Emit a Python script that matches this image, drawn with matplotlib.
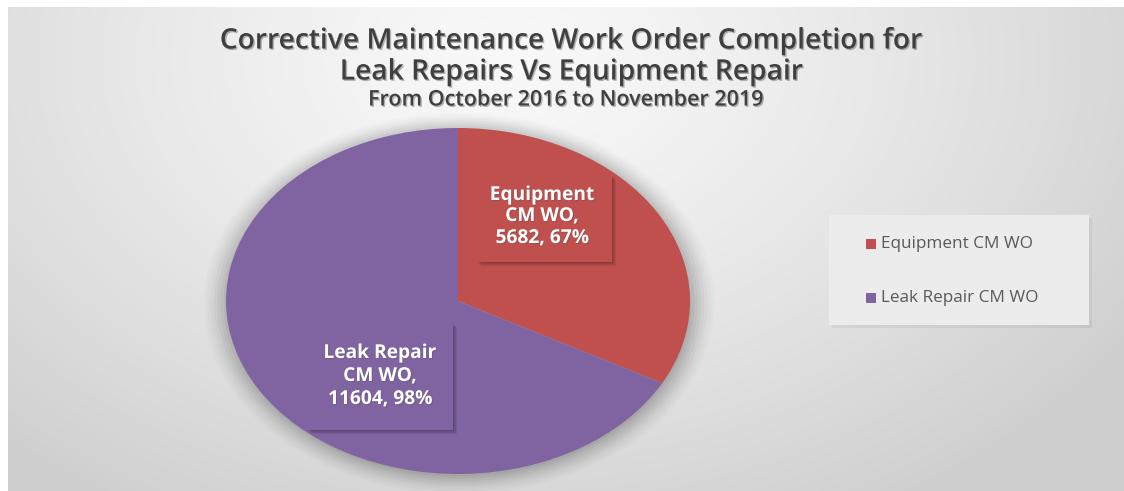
import numpy as np
import matplotlib
matplotlib.use("Agg")
import matplotlib.pyplot as plt
from matplotlib.patches import Rectangle
import matplotlib.patheffects as pe

# ---- data ----
categories = ["Equipment CM WO", "Leak Repair CM WO"]
values = [5682, 11604]
pct_labels = ["67%", "98%"]
colors = ["#c0504d", "#8064a2"]
title_lines = ["Corrective Maintenance Work Order Completion for",
               "Leak Repairs Vs Equipment Repair"]
subtitle = "From October 2016 to November 2019"

W, H = 1124, 491
fig = plt.figure(figsize=(W / 100, H / 100), dpi=100)
fig.patch.set_facecolor("#cfcfcf")

def fx(px):
    return px / W

def fy(py):
    return 1 - py / H

# ---- background with radial gradient ----
bg = fig.add_axes([0, 0, 1, 1])
bg.set_axis_off()
yy, xx = np.mgrid[0:1:300j, 0:1:600j]
d = np.sqrt(((xx - 0.45) * 1.6) ** 2 + ((yy - 0.12) * 1.0) ** 2)
d = np.clip(d / 1.05, 0, 1)
val = 0.975 - 0.16 * d ** 1.3
img = np.dstack([val, val, val])
bg.imshow(img, extent=[0, 1, 0, 1], origin="upper", aspect="auto",
          interpolation="bilinear")
bg.set_xlim(0, 1)
bg.set_ylim(0, 1)
# white outer margins at top and left
bg.add_patch(Rectangle((0, fy(7)), 1, 1, transform=fig.transFigure,
                       facecolor="white", lw=0, zorder=3))
bg.add_patch(Rectangle((0, 0), fx(8), 1, transform=fig.transFigure,
                       facecolor="white", lw=0, zorder=3))

# ---- pie ----
cx, cy, rx, ry = 458, 301, 232, 173
sh = fig.add_axes([fx(cx - rx - 30), fy(cy + ry + 30), fx(2 * rx + 60), (2 * ry + 60) / H])
sh.set_axis_off()
sh.set_xlim(-1, 1)
sh.set_ylim(-1, 1)
t = np.linspace(0, 2 * np.pi, 300)
sx = rx / (rx + 30)
sy = ry / (ry + 30)
for k, a in zip(np.linspace(1.10, 1.0, 8), np.linspace(0.015, 0.05, 8)):
    sh.fill(sx * k * np.cos(t) + 0.004, sy * k * np.sin(t) - 0.012, color="black", alpha=a, lw=0)

ax = fig.add_axes([fx(cx - rx), fy(cy + ry), fx(2 * rx), 2 * ry / H])
wedges, _ = ax.pie(values, colors=colors, startangle=90, counterclock=False,
                   wedgeprops=dict(linewidth=0))
ax.set_aspect("auto")
ax.set_xlim(-1, 1)
ax.set_ylim(-1, 1)
ax.set_axis_off()

# ---- data label boxes ----
def label_box(x0, y0, x1, y1, color, lines, tx, tys):
    for k in range(4):
        off = 1 + k
        shadow = Rectangle((fx(x0 + off), fy(y1 + off)), fx(x1 - x0), (y1 - y0) / H,
                           transform=fig.transFigure, facecolor="black", alpha=0.07,
                           lw=0, zorder=5)
        fig.patches.append(shadow)
    box = Rectangle((fx(x0), fy(y1)), fx(x1 - x0), (y1 - y0) / H,
                    transform=fig.transFigure, facecolor=color, lw=0, zorder=6)
    fig.patches.append(box)
    for s, ty in zip(lines, tys):
        fig.text(fx(tx), fy(ty), s, ha="center", va="center", color="white",
                 fontsize=13.8, fontweight="bold", family="Open Sans", zorder=7,
                 path_effects=[pe.withSimplePatchShadow(offset=(0.8, -0.8), alpha=0.3)])

label_box(477, 175, 612, 262, colors[0],
          ["Equipment", "CM WO,", f"{values[0]}, {pct_labels[0]}"],
          542, [195, 216, 238])
label_box(307, 323, 453, 430, colors[1],
          ["Leak Repair", "CM WO,", f"{values[1]}, {pct_labels[1]}"],
          380, [353, 376, 399])

# ---- title ----
tkw = dict(ha="center", va="center", fontweight="semibold", family="Open Sans",
           color="#3f3f3f",
           path_effects=[pe.withSimplePatchShadow(offset=(1, -1), alpha=0.3)])
fig.text(fx(572), fy(41), title_lines[0], fontsize=20.3, **tkw)
fig.text(fx(572), fy(72), title_lines[1], fontsize=20.3, **tkw)
fig.text(fx(566), fy(100), subtitle, fontsize=15.5, **tkw)

# ---- legend ----
lshadow = Rectangle((fx(832), fy(328)), fx(260), 110 / H, transform=fig.transFigure,
                    facecolor="black", alpha=0.05, lw=0, zorder=3)
lbox = Rectangle((fx(829), fy(325)), fx(260), 110 / H, transform=fig.transFigure,
                 facecolor="#ececec", lw=0, zorder=4)
fig.patches.extend([lshadow, lbox])
for i, (name, c) in enumerate(zip(categories, colors)):
    ypx = 244 + i * 54
    fig.patches.append(Rectangle((fx(866), fy(ypx + 5)), fx(10), 10 / H,
                                 transform=fig.transFigure, facecolor=c, lw=0, zorder=5))
    fig.text(fx(881), fy(ypx), name, ha="left", va="center", fontsize=12.3,
             family="Open Sans", color="#595959", zorder=6)

fig.savefig("out.png", dpi=100)
